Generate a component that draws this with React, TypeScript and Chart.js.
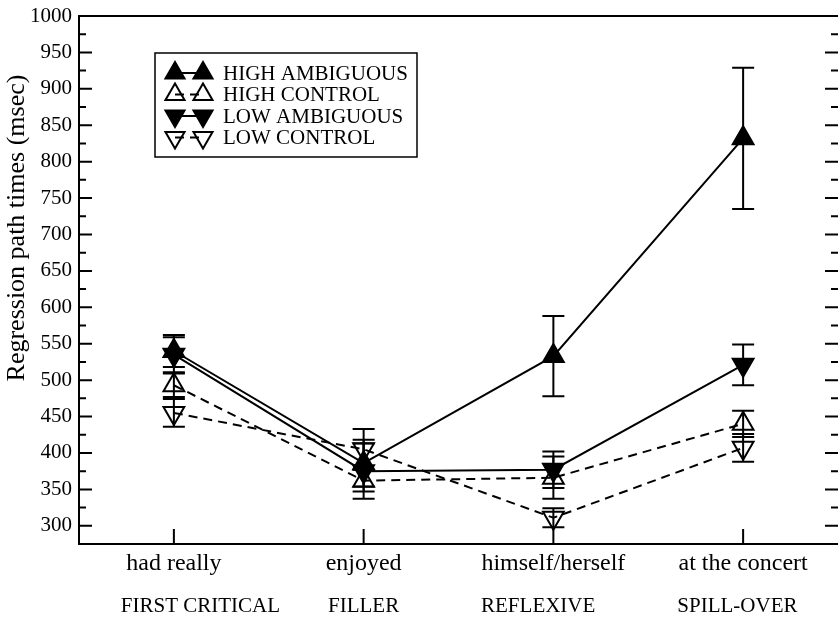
import React, { useEffect, useRef } from 'react';
import { Chart, registerables } from 'chart.js';
import { drawPoint } from 'chart.js/helpers';

Chart.register(...registerables);

const categories = ['had really', 'enjoyed', 'himself/herself', 'at the concert'];
const regions = ['FIRST CRITICAL', 'FILLER', 'REFLEXIVE', 'SPILL-OVER'];
const yTickValues = [300, 350, 400, 450, 500, 550, 600, 650, 700, 750, 800, 850, 900, 950, 1000];
const yMinorValues = [325, 375, 425, 475, 525, 575, 625, 675, 725, 775, 825, 875, 925, 975];
const yTitle = 'Regression path times (msec)';

const highAmbiguous = [540, 386, 533, 832];
const highAmbiguousErr = [22, 32, 55, 97];
const highControl = [493, 362, 366, 440];
const highControlErr = [16, 15, 29, 18];
const lowAmbiguous = [535, 375, 377, 521];
const lowAmbiguousErr = [24, 38, 25, 28];
const lowControl = [455, 405, 311, 407];
const lowControlErr = [19, 28, 13, 19];

const FONT = "'Liberation Serif', 'Times New Roman', serif";
// small horizontal nudges (in category units) of the region captions, as typeset in the original
const REGION_NUDGE = [0.14, 0.0, -0.08, -0.03];

function makeSet(label: string, values: number[], errs: number[], filled: boolean, dashed: boolean, rotation: number) {
  return {
    label,
    data: values.map((v, i) => ({ x: i, y: v })),
    errors: errs,
    borderColor: '#000',
    borderWidth: 2,
    borderDash: dashed ? [9, 6] : [],
    pointStyle: 'triangle',
    pointRotation: rotation,
    pointRadius: 12,
    pointHoverRadius: 12,
    pointBorderWidth: 2,
    pointBorderColor: '#000',
    pointBackgroundColor: filled ? '#000' : 'rgba(0,0,0,0)',
    backgroundColor: filled ? '#000' : 'rgba(0,0,0,0)',
    fill: false,
    tension: 0,
    clip: false,
  };
}

const zeroPad = (s: any) => {
  s.paddingLeft = 0;
  s.paddingRight = 0;
  s.paddingTop = 0;
  s.paddingBottom = 0;
};

const decorPlugin = {
  id: 'decor',
  beforeDatasetsDraw(chart: any) {
    const { ctx, scales } = chart;
    const x = scales.x;
    const y = scales.y;
    ctx.save();
    ctx.strokeStyle = '#000';
    ctx.lineWidth = 2;
    ctx.setLineDash([]);
    chart.data.datasets.forEach((ds: any) => {
      ds.data.forEach((p: any, i: number) => {
        const e = ds.errors[i];
        const px = x.getPixelForValue(p.x);
        const y1 = y.getPixelForValue(p.y + e);
        const y2 = y.getPixelForValue(p.y - e);
        ctx.beginPath();
        ctx.moveTo(px, y1);
        ctx.lineTo(px, y2);
        ctx.moveTo(px - 11, y1);
        ctx.lineTo(px + 11, y1);
        ctx.moveTo(px - 11, y2);
        ctx.lineTo(px + 11, y2);
        ctx.stroke();
      });
    });
    ctx.restore();
  },
  afterDraw(chart: any) {
    const { ctx, chartArea, scales } = chart;
    const { left, right, top, bottom } = chartArea;
    const x = scales.x;
    const y = scales.y;
    ctx.save();
    ctx.strokeStyle = '#000';
    ctx.lineWidth = 2;
    ctx.setLineDash([]);
    // frame: left, top and bottom (the right edge falls at the picture border)
    ctx.beginPath();
    ctx.moveTo(right, top);
    ctx.lineTo(left, top);
    ctx.lineTo(left, bottom);
    ctx.lineTo(right, bottom);
    ctx.stroke();
    ctx.beginPath();
    yTickValues.forEach((v) => {
      const py = y.getPixelForValue(v);
      ctx.moveTo(left, py);
      ctx.lineTo(left + 13, py);
      ctx.moveTo(right, py);
      ctx.lineTo(right - 13, py);
    });
    yMinorValues.forEach((v) => {
      const py = y.getPixelForValue(v);
      ctx.moveTo(left, py);
      ctx.lineTo(left + 7, py);
      ctx.moveTo(right, py);
      ctx.lineTo(right - 7, py);
    });
    categories.forEach((_, i) => {
      const px = x.getPixelForValue(i);
      ctx.moveTo(px, bottom);
      ctx.lineTo(px, bottom - 15);
    });
    ctx.stroke();

    // y-axis title (placed as in the original, above the axis centre)
    ctx.save();
    ctx.translate(17, top + 212);
    ctx.rotate(-Math.PI / 2);
    ctx.font = `26px ${FONT}`;
    ctx.textAlign = 'center';
    ctx.textBaseline = 'middle';
    ctx.fillStyle = '#000';
    ctx.fillText(yTitle, 0, 0);
    ctx.restore();

    // legend
    const bx = left + 76;
    const by = top + 37;
    ctx.lineWidth = 1.5;
    ctx.strokeRect(bx, by, 262, 104);
    ctx.font = `21px ${FONT}`;
    ctx.textBaseline = 'middle';
    ctx.textAlign = 'left';
    chart.data.datasets.forEach((ds: any, i: number) => {
      const ry = by + 20 + i * 21.5;
      const m1 = bx + 20;
      const m2 = bx + 48;
      ctx.lineWidth = 2;
      ctx.strokeStyle = '#000';
      ctx.setLineDash(ds.borderDash);
      ctx.beginPath();
      ctx.moveTo(m1, ry);
      ctx.lineTo(m2, ry);
      ctx.stroke();
      ctx.setLineDash([]);
      ctx.fillStyle = ds.pointBackgroundColor;
      const opts = { pointStyle: 'triangle', rotation: ds.pointRotation, radius: 11, borderWidth: 2 };
      drawPoint(ctx, opts as any, m1, ry);
      drawPoint(ctx, opts as any, m2, ry);
      ctx.fillStyle = '#000';
      ctx.fillText(ds.label, bx + 68, ry + 1);
    });
    ctx.restore();
  },
};

export default function App() {
  const ref = useRef<HTMLCanvasElement | null>(null);
  useEffect(() => {
    document.body.style.margin = '0';
    const canvas = ref.current;
    if (!canvas) return;
    const chart = new Chart(canvas, {
      type: 'line',
      data: {
        datasets: [
          makeSet('HIGH AMBIGUOUS', highAmbiguous, highAmbiguousErr, true, false, 0),
          makeSet('HIGH CONTROL', highControl, highControlErr, false, true, 0),
          makeSet('LOW AMBIGUOUS', lowAmbiguous, lowAmbiguousErr, true, false, 180),
          makeSet('LOW CONTROL', lowControl, lowControlErr, false, true, 180),
        ] as any,
      },
      options: {
        responsive: false,
        devicePixelRatio: 1,
        animation: false,
        layout: { autoPadding: false, padding: { left: 0, right: 0, top: 16, bottom: 0 } },
        plugins: { legend: { display: false }, tooltip: { enabled: false } },
        scales: {
          x: {
            type: 'linear',
            position: 'bottom',
            weight: 0,
            min: -0.5,
            max: 3.5,
            afterBuildTicks: (s: any) => {
              s.ticks = categories.map((_, i) => ({ value: i }));
            },
            afterFit: (s: any) => {
              s.height = 42;
              zeroPad(s);
            },
            grid: { display: false, drawTicks: false },
            border: { display: false },
            ticks: {
              autoSkip: false,
              maxRotation: 0,
              padding: 5,
              color: '#000',
              font: { family: FONT, size: 24 },
              callback: (v: any) => categories[Math.round(v)] ?? '',
            },
          },
          x2: {
            type: 'linear',
            position: 'bottom',
            weight: 1,
            min: -0.5,
            max: 3.5,
            afterBuildTicks: (s: any) => {
              s.ticks = regions.map((_, i) => ({ value: i + REGION_NUDGE[i] }));
            },
            afterFit: (s: any) => {
              s.height = 33;
              zeroPad(s);
            },
            grid: { display: false, drawTicks: false },
            border: { display: false },
            ticks: {
              autoSkip: false,
              maxRotation: 0,
              padding: 8,
              color: '#000',
              font: { family: FONT, size: 21 },
              callback: (v: any) => regions[Math.round(v)] ?? '',
            },
          },
          y: {
            type: 'linear',
            min: 275,
            max: 1000,
            afterBuildTicks: (s: any) => {
              s.ticks = yTickValues.map((v) => ({ value: v }));
            },
            afterFit: (s: any) => {
              s.width = 79;
              zeroPad(s);
            },
            grid: { display: false, drawTicks: false },
            border: { display: false },
            ticks: {
              padding: 7,
              color: '#000',
              font: { family: FONT, size: 21 },
              callback: (v: any) => String(v),
            },
            title: { display: false, text: yTitle },
          },
        },
      } as any,
      plugins: [decorPlugin],
    });
    return () => chart.destroy();
  }, []);
  return <canvas ref={ref} width={838} height={619} style={{ display: 'block' }} />;
}
